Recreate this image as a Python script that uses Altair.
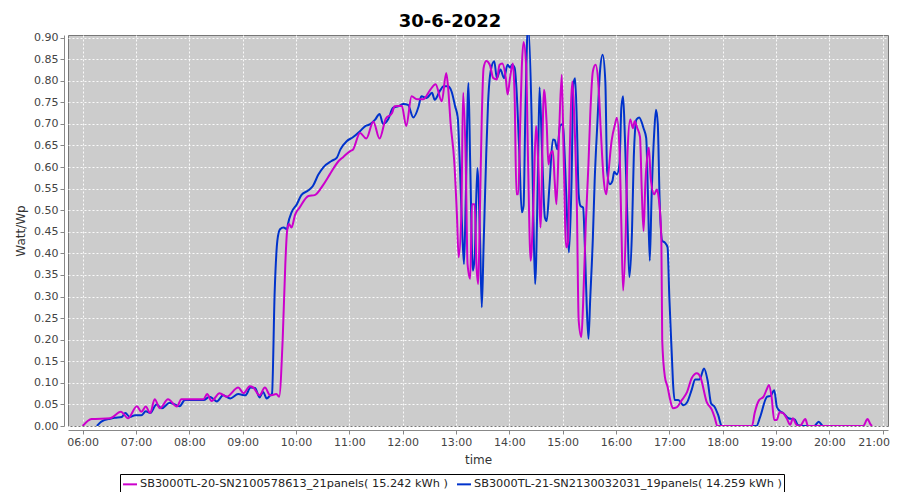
import altair as alt
import pandas as pd

SERIES = ["SB3000TL-20-SN2100578613_21panels( 15.242 kWh )",
          "SB3000TL-21-SN2130032031_19panels( 14.259 kWh )"]
COLORS = ["#CC00CC", "#0033CC"]

mag_times = ["06:00", "06:10", "06:31", "06:43", "06:51", "07:01", "07:06", "07:11", "07:16", "07:21",
             "07:27", "07:36", "07:46", "07:51", "08:16", "08:20", "08:25", "08:34", "08:42", "08:55",
             "09:01", "09:08", "09:12", "09:19", "09:25", "09:31", "09:38", "09:41", "09:45", "09:48",
             "09:50", "09:52", "09:55", "09:59", "10:04", "10:14", "10:21", "10:31", "10:38", "10:48",
             "10:53", "11:01", "11:04", "11:12", "11:19", "11:27", "11:34", "11:41", "11:48", "11:51",
             "11:59", "12:04", "12:10", "12:16", "12:23", "12:31", "12:37", "12:44", "12:49", "12:51",
             "12:54", "12:58", "13:01", "13:03", "13:06", "13:08", "13:11", "13:13", "13:16", "13:18",
             "13:21", "13:23", "13:25", "13:27", "13:29", "13:31", "13:34", "13:38", "13:42", "13:46",
             "13:49", "13:52", "13:56", "13:58", "14:01", "14:04", "14:06", "14:08", "14:10", "14:12",
             "14:14", "14:16", "14:19", "14:21", "14:24", "14:27", "14:30", "14:33", "14:35", "14:39",
             "14:42", "14:44", "14:46", "14:49", "14:51", "14:53", "14:56", "14:59", "15:01", "15:04",
             "15:06", "15:08", "15:11", "15:13", "15:16", "15:18", "15:21", "15:23", "15:26", "15:29",
             "15:31", "15:34", "15:37", "15:40", "15:43", "15:46", "15:49", "15:51", "15:55", "15:59",
             "16:01", "16:04", "16:06", "16:08", "16:11", "16:13", "16:16", "16:19", "16:21", "16:24",
             "16:27", "16:29", "16:31", "16:33", "16:36", "16:37", "16:39", "16:43", "16:46", "16:48",
             "16:51", "16:52", "16:55", "16:58", "17:01", "17:04", "17:08", "17:14", "17:20", "17:25",
             "17:31", "17:35", "17:42", "17:48", "17:51", "17:54", "18:33", "18:36", "18:41", "18:46",
             "18:50", "18:52", "18:55", "18:58", "19:01", "19:04", "19:08", "19:12", "19:16", "19:19",
             "19:23", "19:27", "19:33", "19:36", "20:38", "20:43", "20:46", "20:48"]
mag_vals = [0.0, 0.016, 0.018, 0.033, 0.018, 0.046, 0.033, 0.045, 0.030, 0.062,
            0.041, 0.062, 0.045, 0.062, 0.062, 0.074, 0.058, 0.076, 0.068, 0.089,
            0.076, 0.092, 0.089, 0.071, 0.089, 0.071, 0.074, 0.068, 0.200, 0.376,
            0.452, 0.468, 0.460, 0.490, 0.506, 0.533, 0.535, 0.560, 0.583, 0.614,
            0.623, 0.637, 0.640, 0.679, 0.666, 0.705, 0.666, 0.712, 0.725, 0.741,
            0.742, 0.695, 0.764, 0.757, 0.757, 0.779, 0.792, 0.752, 0.818, 0.787,
            0.699, 0.614, 0.491, 0.391, 0.490, 0.772, 0.606, 0.375, 0.341, 0.514,
            0.514, 0.375, 0.329, 0.510, 0.714, 0.829, 0.846, 0.837, 0.806, 0.803,
            0.837, 0.840, 0.806, 0.768, 0.810, 0.840, 0.760, 0.537, 0.537, 0.680,
            0.830, 0.890, 0.830, 0.620, 0.383, 0.510, 0.695, 0.584, 0.460, 0.779,
            0.700, 0.606, 0.629, 0.637, 0.568, 0.514, 0.680, 0.814, 0.637, 0.414,
            0.425, 0.637, 0.798, 0.720, 0.506, 0.245, 0.206, 0.283, 0.468, 0.606,
            0.720, 0.822, 0.837, 0.798, 0.680, 0.575, 0.537, 0.575, 0.660, 0.700,
            0.714, 0.637, 0.468, 0.314, 0.452, 0.637, 0.710, 0.690, 0.706, 0.690,
            0.670, 0.545, 0.452, 0.560, 0.637, 0.645, 0.575, 0.537, 0.548, 0.529,
            0.437, 0.198, 0.114, 0.091, 0.060, 0.041, 0.043, 0.060, 0.079, 0.110,
            0.122, 0.113, 0.056, 0.037, 0.020, 0.0, 0.0, 0.030, 0.060, 0.068,
            0.087, 0.095, 0.068, 0.014, 0.014, 0.032, 0.030, 0.018, 0.003, 0.018,
            0.003, 0.0, 0.016, 0.0, 0.0, 0.016, 0.005, 0.0]

blue_times = ["06:16", "06:21", "06:31", "06:36", "06:44", "06:48", "06:53", "06:59", "07:06", "07:11",
              "07:16", "07:23", "07:29", "07:38", "07:49", "07:55", "08:16", "08:23", "08:31", "08:38",
              "08:46", "08:55", "09:03", "09:09", "09:14", "09:19", "09:23", "09:27", "09:31", "09:33",
              "09:36", "09:39", "09:42", "09:46", "09:50", "09:51", "09:55", "10:01", "10:06", "10:14",
              "10:19", "10:25", "10:31", "10:40", "10:46", "10:50", "10:57", "11:04", "11:12", "11:18",
              "11:23", "11:29", "11:34", "11:38", "11:44", "11:49", "11:55", "12:01", "12:06", "12:12",
              "12:18", "12:21", "12:27", "12:33", "12:36", "12:42", "12:46", "12:51", "12:55", "12:59",
              "13:02", "13:04", "13:07", "13:09", "13:11", "13:14", "13:16", "13:19", "13:21", "13:24",
              "13:27", "13:29", "13:31", "13:34", "13:36", "13:39", "13:43", "13:46", "13:50", "13:54",
              "13:58", "14:01", "14:03", "14:06", "14:08", "14:11", "14:14", "14:16", "14:18", "14:21",
              "14:25", "14:27", "14:29", "14:32", "14:34", "14:37", "14:40", "14:42", "14:45", "14:49",
              "14:51", "14:54", "14:57", "15:00", "15:03", "15:05", "15:07", "15:10", "15:12", "15:14",
              "15:16", "15:18", "15:20", "15:23", "15:25", "15:27", "15:29", "15:31", "15:34", "15:36",
              "15:39", "15:42", "15:45", "15:48", "15:50", "15:53", "15:56", "15:58", "16:01", "16:04",
              "16:06", "16:08", "16:10", "16:13", "16:15", "16:18", "16:20", "16:23", "16:26", "16:31",
              "16:34", "16:36", "16:38", "16:40", "16:43", "16:45", "16:47", "16:49", "16:52", "16:55",
              "16:58", "17:00", "17:03", "17:04", "17:06", "17:10", "17:16", "17:20", "17:25", "17:29",
              "17:34", "17:39", "17:43", "17:47", "17:51", "17:55", "17:59", "18:38", "18:42", "18:50",
              "18:54", "18:58", "19:01", "19:04", "19:08", "19:14", "19:21", "19:25", "19:36", "19:43",
              "19:48", "19:53", "20:03"]
blue_vals = [0.0, 0.010, 0.017, 0.019, 0.021, 0.030, 0.021, 0.025, 0.025, 0.034,
             0.030, 0.050, 0.041, 0.054, 0.046, 0.060, 0.060, 0.068, 0.057, 0.071,
             0.064, 0.074, 0.071, 0.089, 0.088, 0.066, 0.079, 0.064, 0.071, 0.075,
             0.310, 0.429, 0.456, 0.460, 0.456, 0.468, 0.495, 0.514, 0.535, 0.546,
             0.556, 0.582, 0.600, 0.614, 0.622, 0.641, 0.660, 0.669, 0.683, 0.695,
             0.699, 0.710, 0.723, 0.700, 0.712, 0.737, 0.741, 0.746, 0.744, 0.715,
             0.741, 0.764, 0.760, 0.772, 0.756, 0.777, 0.787, 0.787, 0.775, 0.741,
             0.714, 0.622, 0.452, 0.375, 0.529, 0.795, 0.606, 0.360, 0.391, 0.598,
             0.437, 0.275, 0.414, 0.629, 0.745, 0.822, 0.845, 0.806, 0.826, 0.806,
             0.837, 0.830, 0.837, 0.830, 0.783, 0.645, 0.495, 0.510, 0.722, 0.930,
             0.720, 0.490, 0.329, 0.568, 0.785, 0.622, 0.483, 0.475, 0.552, 0.664,
             0.663, 0.641, 0.695, 0.700, 0.591, 0.483, 0.402, 0.568, 0.791, 0.806,
             0.700, 0.537, 0.510, 0.506, 0.414, 0.283, 0.202, 0.295, 0.437, 0.568,
             0.700, 0.822, 0.860, 0.798, 0.591, 0.560, 0.568, 0.589, 0.583, 0.610,
             0.737, 0.764, 0.670, 0.468, 0.345, 0.452, 0.622, 0.710, 0.715, 0.690,
             0.667, 0.529, 0.383, 0.529, 0.680, 0.733, 0.700, 0.529, 0.429, 0.425,
             0.414, 0.298, 0.155, 0.106, 0.060, 0.060, 0.048, 0.055, 0.083, 0.108,
             0.108, 0.133, 0.106, 0.052, 0.044, 0.025, 0.0, 0.0, 0.020, 0.068,
             0.070, 0.083, 0.044, 0.035, 0.030, 0.018, 0.015, 0.002, 0.0, 0.0,
             0.010, 0.0, 0.0]

x_tick_hours = list(range(6, 22))
y_ticks = [round(0.05 * i, 2) for i in range(19)]


def to_min(t):
    h, m = t.split(":")
    return int(h) * 60 + int(m)


rows = []
for t, v in zip(blue_times, blue_vals):
    rows.append({"series": SERIES[1], "minute": to_min(t), "value": v})
for t, v in zip(mag_times, mag_vals):
    rows.append({"series": SERIES[0], "minute": to_min(t), "value": v})
df = pd.DataFrame(rows)

FONT = "DejaVu Sans"

x_enc = alt.X(
    "minute:Q",
    scale=alt.Scale(domain=[343.5, 1266], nice=False, zero=False),
    axis=alt.Axis(
        title="time", values=[h * 60 for h in x_tick_hours],
        labelExpr="(datum.value < 600 ? '0' : '') + floor(datum.value / 60) + ':00'",
        labelOffset={"condition": {"test": "datum.value >= 1260", "value": -9}, "value": 0},
        offset=4, tickSize=4, labelPadding=2, titlePadding=7,
    ),
)
y_enc = alt.Y(
    "value:Q",
    scale=alt.Scale(domain=[0, 0.906], nice=False),
    axis=alt.Axis(title="Watt/Wp", values=y_ticks, format=".2f",
                  offset=4, tickSize=4, labelPadding=2, titlePadding=6),
)
color_enc = alt.Color(
    "series:N",
    scale=alt.Scale(domain=SERIES, range=COLORS),
    legend=alt.Legend(
        title=None, orient="none", legendX=52, legendY=439, direction="horizontal",
        symbolType="stroke", symbolStrokeWidth=2, symbolSize=196,
        labelFont=FONT, labelFontSize=11.3, labelColor="#222222", labelLimit=1000,
        strokeColor="black", fillColor="white", padding=2, columnPadding=5, labelOffset=2,
    ),
)

base = alt.Chart(df).mark_line(interpolate="monotone", strokeWidth=2, clip=True).encode(
    x=x_enc, y=y_enc, color=color_enc
)
blue_line = base.transform_filter(alt.datum.series == SERIES[1])
mag_line = base.transform_filter(alt.datum.series == SERIES[0])

chart = alt.layer(blue_line, mag_line).properties(
    width=820, height=391,
    title=alt.TitleParams("30-6-2022", font=FONT, fontSize=18, fontWeight="bold",
                          color="black", anchor="middle", dx=-28, dy=10, offset=11),
    autosize=alt.AutoSizeParams(type="none"),
    padding={"left": 60, "top": 27, "right": 4, "bottom": 66},
).configure(background="white").configure_view(
    fill="#cccccc", stroke="#777777", strokeWidth=1
).configure_axis(
    labelFont=FONT, labelFontSize=11, labelColor="#444444",
    titleFont=FONT, titleFontSize=12, titleFontWeight="normal", titleColor="#333333",
    domainColor="#888888", tickColor="#888888",
    gridColor="white", gridDash=[2, 2], gridWidth=1, gridOpacity=0.9,
)

chart.save("out.html", embed_options={"renderer": "svg", "actions": False})
